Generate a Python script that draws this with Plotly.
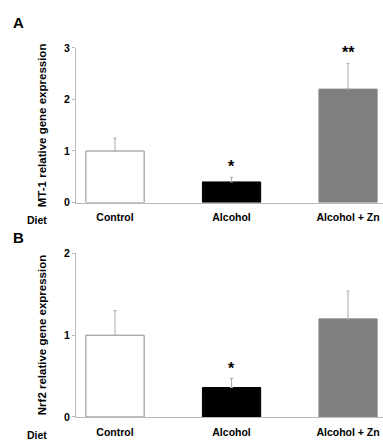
import plotly.graph_objects as go

categories = ["Control", "Alcohol", "Alcohol + Zn"]
mt1_values = [1.0, 0.40, 2.20]
mt1_errors = [0.25, 0.09, 0.50]
mt1_sig = ["", "*", "**"]
nrf2_values = [1.0, 0.36, 1.20]
nrf2_errors = [0.30, 0.11, 0.34]
nrf2_sig = ["", "*", ""]
bar_colors = ["#ffffff", "#000000", "#7f7f7f"]
line_colors = ["#8a8a8a", "#000000", "#8a8a8a"]

FONT = "Liberation Sans, Arial, sans-serif"
W, H = 383, 447

fig = go.Figure()

panels = [
    dict(vals=mt1_values, errs=mt1_errors, sig=mt1_sig, xa="x", ya="y",
         ydom=(1 - 202 / H, 1 - 43 / H), yrange=[0, 3],
         title="MT-1 relative gene expression", letter="A", letter_y=17, diet_y=216),
    dict(vals=nrf2_values, errs=nrf2_errors, sig=nrf2_sig, xa="x2", ya="y2",
         ydom=(1 - 422.3 / H, 1 - 254.3 / H), yrange=[0, 2],
         title="Nrf2 relative gene expression", letter="B", letter_y=238, diet_y=437),
]

annotations = []
for i, p in enumerate(panels):
    fig.add_trace(go.Bar(
        x=categories, y=p["vals"], xaxis=p["xa"], yaxis=p["ya"],
        width=0.5,
        marker=dict(color=bar_colors, line=dict(color=line_colors, width=1)),
        error_y=dict(type="data", array=p["errs"], arrayminus=[0, 0, 0],
                     symmetric=False, color="#a8a8a8", thickness=1, width=1.5),
        showlegend=False, hoverinfo="skip",
    ))
    for c, v, e, s in zip(categories, p["vals"], p["errs"], p["sig"]):
        if s:
            annotations.append(dict(
                x=c, y=v + e, xref=p["xa"], yref=p["ya"], text=s, showarrow=False,
                yanchor="bottom", yshift=0,
                font=dict(family=FONT, size=16, color="#000", weight="bold"),
            ))
    ymid = (p["ydom"][0] + p["ydom"][1]) / 2
    annotations.append(dict(
        x=42 / W, y=ymid, xref="paper", yref="paper", text=p["title"],
        textangle=-90, showarrow=False, xanchor="center", yanchor="middle",
        font=dict(family=FONT, size=11.5, color="#000", weight="bold"),
    ))
    annotations.append(dict(
        x=11 / W, y=1 - p["letter_y"] / H, xref="paper", yref="paper", text=p["letter"],
        showarrow=False, xanchor="left", yanchor="middle",
        font=dict(family=FONT, size=15, color="#000", weight="bold"),
    ))
    annotations.append(dict(
        x=25 / W, y=1 - (p["diet_y"] + 4) / H, xref="paper", yref="paper", text="Diet",
        showarrow=False, xanchor="left", yanchor="middle",
        font=dict(family=FONT, size=10.5, color="#000", weight="bold"),
    ))

xaxis_common = dict(
    domain=[76 / W, 1.0], range=[-0.335, 2.3], type="category",
    showline=True, linecolor="#b8b8b8", linewidth=1, ticks="", showgrid=False,
    zeroline=False, tickfont=dict(family=FONT, size=10.5, color="#000", weight="bold"),
    ticklabelstandoff=5, fixedrange=True,
)
yaxis_common = dict(
    showline=True, linecolor="#b8b8b8", linewidth=1, ticks="outside", ticklen=3,
    tickcolor="#b8b8b8", showgrid=False, zeroline=False,
    tickfont=dict(family=FONT, size=10.5, color="#000", weight="bold"), fixedrange=True,
)

fig.update_layout(
    width=W, height=H, margin=dict(l=0, r=0, t=0, b=0),
    paper_bgcolor="white", plot_bgcolor="white",
    xaxis=dict(**xaxis_common, anchor="y"),
    xaxis2=dict(**xaxis_common, anchor="y2"),
    yaxis=dict(**yaxis_common, domain=list(panels[0]["ydom"]), range=panels[0]["yrange"],
               dtick=1, anchor="x"),
    yaxis2=dict(**yaxis_common, domain=list(panels[1]["ydom"]), range=panels[1]["yrange"],
                dtick=1, anchor="x2"),
    annotations=annotations,
    bargap=0.5,
)

fig.write_html(
    "out.html",
    config={"displayModeBar": False},
    post_script="document.body.style.margin='0';document.body.style.overflow='hidden';",
)
